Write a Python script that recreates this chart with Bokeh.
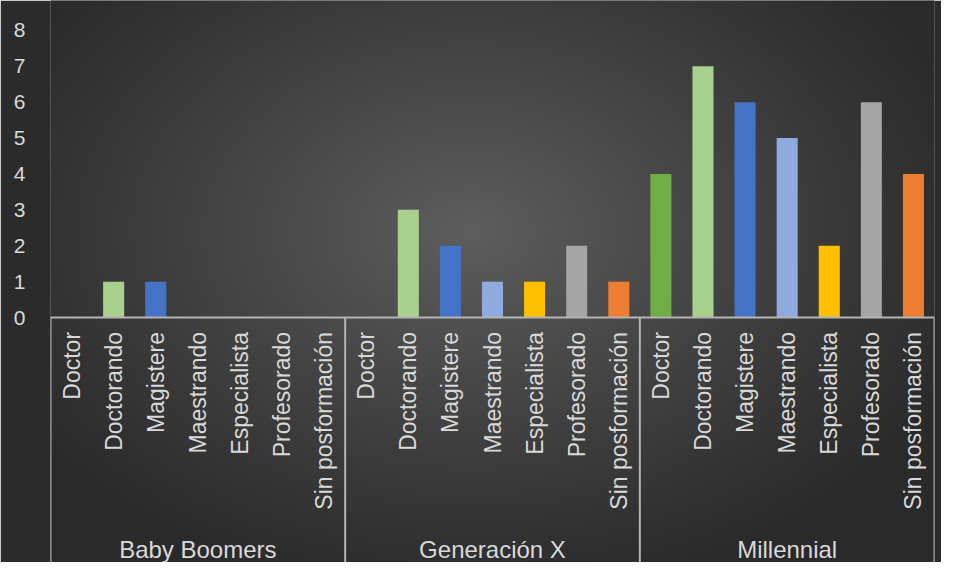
import numpy as np
from bokeh.plotting import figure
from bokeh.models import FactorRange, Range1d, FixedTicker, ColumnDataSource, Span
from bokeh.core.properties import value
from bokeh.embed import file_html
from bokeh.resources import INLINE

# ---- data ----
generations = ["Baby Boomers", "Generación X", "Millennial"]
levels = ["Doctor", "Doctorando", "Magistere", "Maestrando",
          "Especialista", "Profesorado", "Sin posformación"]
baby_boomers = [0, 1, 1, 0, 0, 0, 0]
generacion_x = [0, 3, 2, 1, 1, 2, 1]
millennial = [4, 7, 6, 5, 2, 6, 4]
level_colors = ["#70ad47", "#a9d18e", "#4472c4", "#8faadc",
                "#ffc000", "#a5a5a5", "#ed7d31"]
y_ticks = [0, 1, 2, 3, 4, 5, 6, 7, 8]

series = [baby_boomers, generacion_x, millennial]
factors = [(g, l) for g in generations for l in levels]
values = [v for s in series for v in s]
colors = [c for _ in generations for c in level_colors]

W, H = 941, 562
Y0, Y1 = -6.82, 8.83
TXT = "#d9d9d9"
LINE = "#b4b4b4"
FONT = "Liberation Sans"

p = figure(width=W, height=H, output_backend="svg", toolbar_location=None,
           x_range=FactorRange(*factors, group_padding=0, factor_padding=0,
                               range_padding=0),
           y_range=Range1d(Y0, Y1), x_axis_location=None,
           min_border_left=50, min_border_right=7, min_border_top=0,
           min_border_bottom=0)
p.border_fill_color = "#2b2b2b"
p.background_fill_color = "#2b2b2b"
p.outline_line_color = None

# radial background gradient (style only)
n_total = len(factors)
gw, gh = 442, 281
xs = np.linspace(50, 934, gw)
ys = np.linspace(562, 0, gh)  # bottom row first
X, Y = np.meshgrid(xs, ys)
r = np.sqrt(((X - 470) / 540.0) ** 2 + ((Y - 230) / 380.0) ** 2)
t = np.clip(1 - r, 0, 1)
c = (42 + (94 - 42) * t ** 1.1).astype(np.uint32)
img = (255 << 24) | (c << 16) | (c << 8) | c
p.image_rgba(image=[img.astype(np.uint32)], x=0, y=Y0, dw=n_total, dh=Y1 - Y0)

# grid / y axis
p.xgrid.visible = False
p.ygrid.ticker = FixedTicker(ticks=y_ticks)
p.ygrid.grid_line_color = "#ffffff"
p.ygrid.grid_line_alpha = 0.16
p.yaxis.ticker = FixedTicker(ticks=y_ticks)
p.yaxis.axis_line_color = None
p.yaxis.major_tick_line_color = None
p.yaxis.minor_tick_line_color = None
p.yaxis.major_label_standoff = 19
p.yaxis.major_label_text_color = TXT
p.yaxis.major_label_text_font = FONT
p.yaxis.major_label_text_font_size = "21px"

# bars
src = ColumnDataSource(dict(x=factors, top=values, color=colors))
p.vbar(x="x", top="top", width=0.5, source=src, fill_color="color",
       line_color=None)

# category box lines
p.add_layout(Span(location=0, dimension="width", line_color=LINE,
                  line_width=2))
seps = [i * len(levels) for i in range(len(generations) + 1)]
p.segment(x0=seps, y0=[0] * len(seps), x1=seps, y1=[Y0] * len(seps),
          line_color=LINE, line_width=2)

# sub-category labels (vertical)
p.text(x=factors, y=[-0.4] * len(factors), text=[f[1] for f in factors],
       angle=np.pi / 2, text_align="right", text_baseline="middle",
       text_color=TXT, text_font=value(FONT), text_font_size="23px")

# group labels
p.text(x=[(g, levels[len(levels) // 2]) for g in generations],
       y=[-6.46] * len(generations), text=generations,
       text_align="center", text_baseline="middle",
       text_color=TXT, text_font=value(FONT), text_font_size="24px")

open("out.html", "w").write(file_html(p, INLINE))
